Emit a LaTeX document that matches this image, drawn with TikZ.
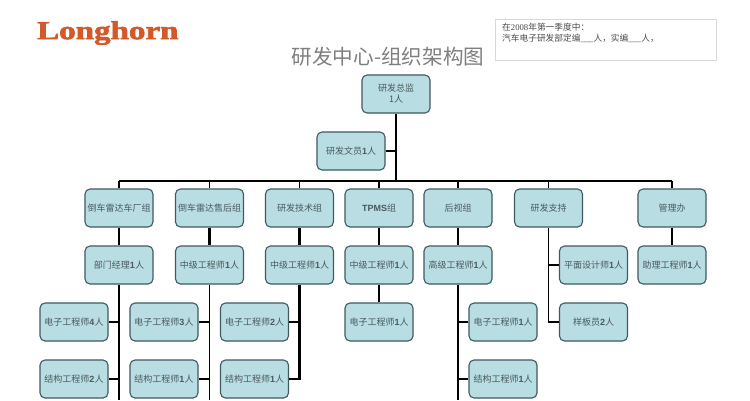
\documentclass[tikz,border=0pt]{standalone}
\usepackage{graphicx}
\usepackage{fontspec}
\setmainfont[BoldFont={Liberation Sans Bold}]{Noto Sans CJK SC}
\newfontfamily\serfont{Liberation Serif}
\newfontfamily\logofont[FakeBold=2.2]{Liberation Serif Bold}
\newfontfamily\latsans{Liberation Sans Bold}
\definecolor{boxfill}{HTML}{B8DDE2}
\definecolor{boxline}{HTML}{3F5A60}
\definecolor{boxtext}{HTML}{4A5A5E}
\definecolor{logoor}{HTML}{D2592A}
\definecolor{titlegray}{HTML}{7F7F7F}
\definecolor{notegray}{HTML}{D8D8D8}
\newcommand{\N}[1]{{\bfseries #1}}
\tikzset{
  orgbox/.style={draw=boxline,fill=boxfill,rounded corners=5bp,line width=1.1bp,
    minimum width=68bp,minimum height=38bp,inner sep=0pt,align=center,
    text=boxtext,font=\fontsize{9bp}{11bp}\selectfont},
  wire/.style={draw=black,line width=1.8bp},
  trunk/.style={draw=black,line width=2.4bp}
}
\begin{document}
\begin{tikzpicture}[x=1bp,y=-1bp]
\useasboundingbox (0,0) rectangle (750,400);
\fill[white] (0,0) rectangle (750,400);
\clip (0,0) rectangle (750,400);
% coordinates
\coordinate (bus) at (396,181);
\coordinate (endA) at (119,400);
\coordinate (endB) at (209.5,400);
\coordinate (endE) at (458,400);
% nodes
\node[orgbox] (top) at (396,94) {研发总监\\1人};
\node[orgbox] (clerk) at (351,151) {研发文员\N{1}人};
\node[orgbox] (g1) at (119,208) {倒车雷达车厂组};
\node[orgbox] (g2) at (209.5,208) {倒车雷达售后组};
\node[orgbox] (g3) at (299.5,208) {研发技术组};
\node[orgbox] (g4) at (379,208) {{\latsans TPMS}组};
\node[orgbox] (g5) at (458,208) {后视组};
\node[orgbox] (g6) at (548.5,208) {研发支持};
\node[orgbox] (g7) at (672,208) {管理办};
\node[orgbox] (m1) at (119,265) {部门经理\N{1}人};
\node[orgbox] (m2) at (209.5,265) {中级工程师\N{1}人};
\node[orgbox] (m3) at (299.5,265) {中级工程师\N{1}人};
\node[orgbox] (m4) at (379,265) {中级工程师\N{1}人};
\node[orgbox] (m5) at (458,265) {高级工程师\N{1}人};
\node[orgbox] (m6) at (593.5,265) {平面设计师\N{1}人};
\node[orgbox] (m7) at (672,265) {助理工程师\N{1}人};
\node[orgbox] (a1) at (74,322) {电子工程师\N{4}人};
\node[orgbox] (b1) at (164,322) {电子工程师\N{3}人};
\node[orgbox] (c1) at (254.5,322) {电子工程师\N{2}人};
\node[orgbox] (d1) at (379,322) {电子工程师\N{1}人};
\node[orgbox] (e1) at (503,322) {电子工程师\N{1}人};
\node[orgbox] (f1) at (593.5,322) {样板员\N{2}人};
\node[orgbox] (a2) at (74,379) {结构工程师\N{2}人};
\node[orgbox] (b2) at (164,379) {结构工程师\N{1}人};
\node[orgbox] (c2) at (254.5,379) {结构工程师\N{1}人};
\node[orgbox] (e2) at (503,379) {结构工程师\N{1}人};
% connectors
\draw[trunk] (top.south) -- (bus);
\draw[wire] (clerk.east) -| (top.south);
\draw[trunk] (g1.north |- bus) -- (g7.north |- bus);
\foreach \g in {g1,g2,g3,g4,g5,g6,g7} \draw[wire] (\g.north) -- (\g.north |- bus);
\foreach \g/\m in {g1/m1,g2/m2,g3/m3,g4/m4,g5/m5,g7/m7} \draw[trunk] (\g.south) -- (\m.north);
\draw[trunk] (m4.south) -- (d1.north);
\draw[wire] (m1.south) -- (endA);
\draw[wire] (m2.south) -- (endB);
\draw[wire] (m5.south) -- (endE);
\draw[trunk] (c2.east) -| (m3.south);
\draw[trunk] (c1.east) -| (m3.south);
\draw[wire] (a1.east) -| (m1.south);
\draw[wire] (a2.east) -| (m1.south);
\draw[wire] (b1.east) -| (m2.south);
\draw[wire] (b2.east) -| (m2.south);
\draw[wire] (e1.west) -| (m5.south);
\draw[wire] (e2.west) -| (m5.south);
\draw[wire] (m6.west) -| (g6.south);
\draw[wire] (f1.west) -| (g6.south);
% title, logo, note
\node[text=titlegray,font=\fontsize{20.6bp}{22bp}\selectfont,inner sep=0pt] (title) at (388,57) {研发中心-组织架构图};
\node[text=logoor,inner sep=0pt,anchor=west] (logo) at (37,33) {\scalebox{1.27}[1]{\logofont\fontsize{26bp}{28bp}\selectfont Longhorn}};
\node[draw=notegray,line width=0.9bp,minimum width=221bp,minimum height=41bp,inner sep=0pt,anchor=north west] (note) at (495,19) {};
\node[anchor=north west,inner sep=0pt,align=left,text=black!70,font=\fontsize{8.7bp}{11bp}\selectfont] (notetext) at (502,23) {在{\serfont 2008}年第一季度中：\\汽车电子研发部定编{\serfont\_\_\_}人，实编{\serfont\_\_\_}人，};
\end{tikzpicture}
\end{document}
